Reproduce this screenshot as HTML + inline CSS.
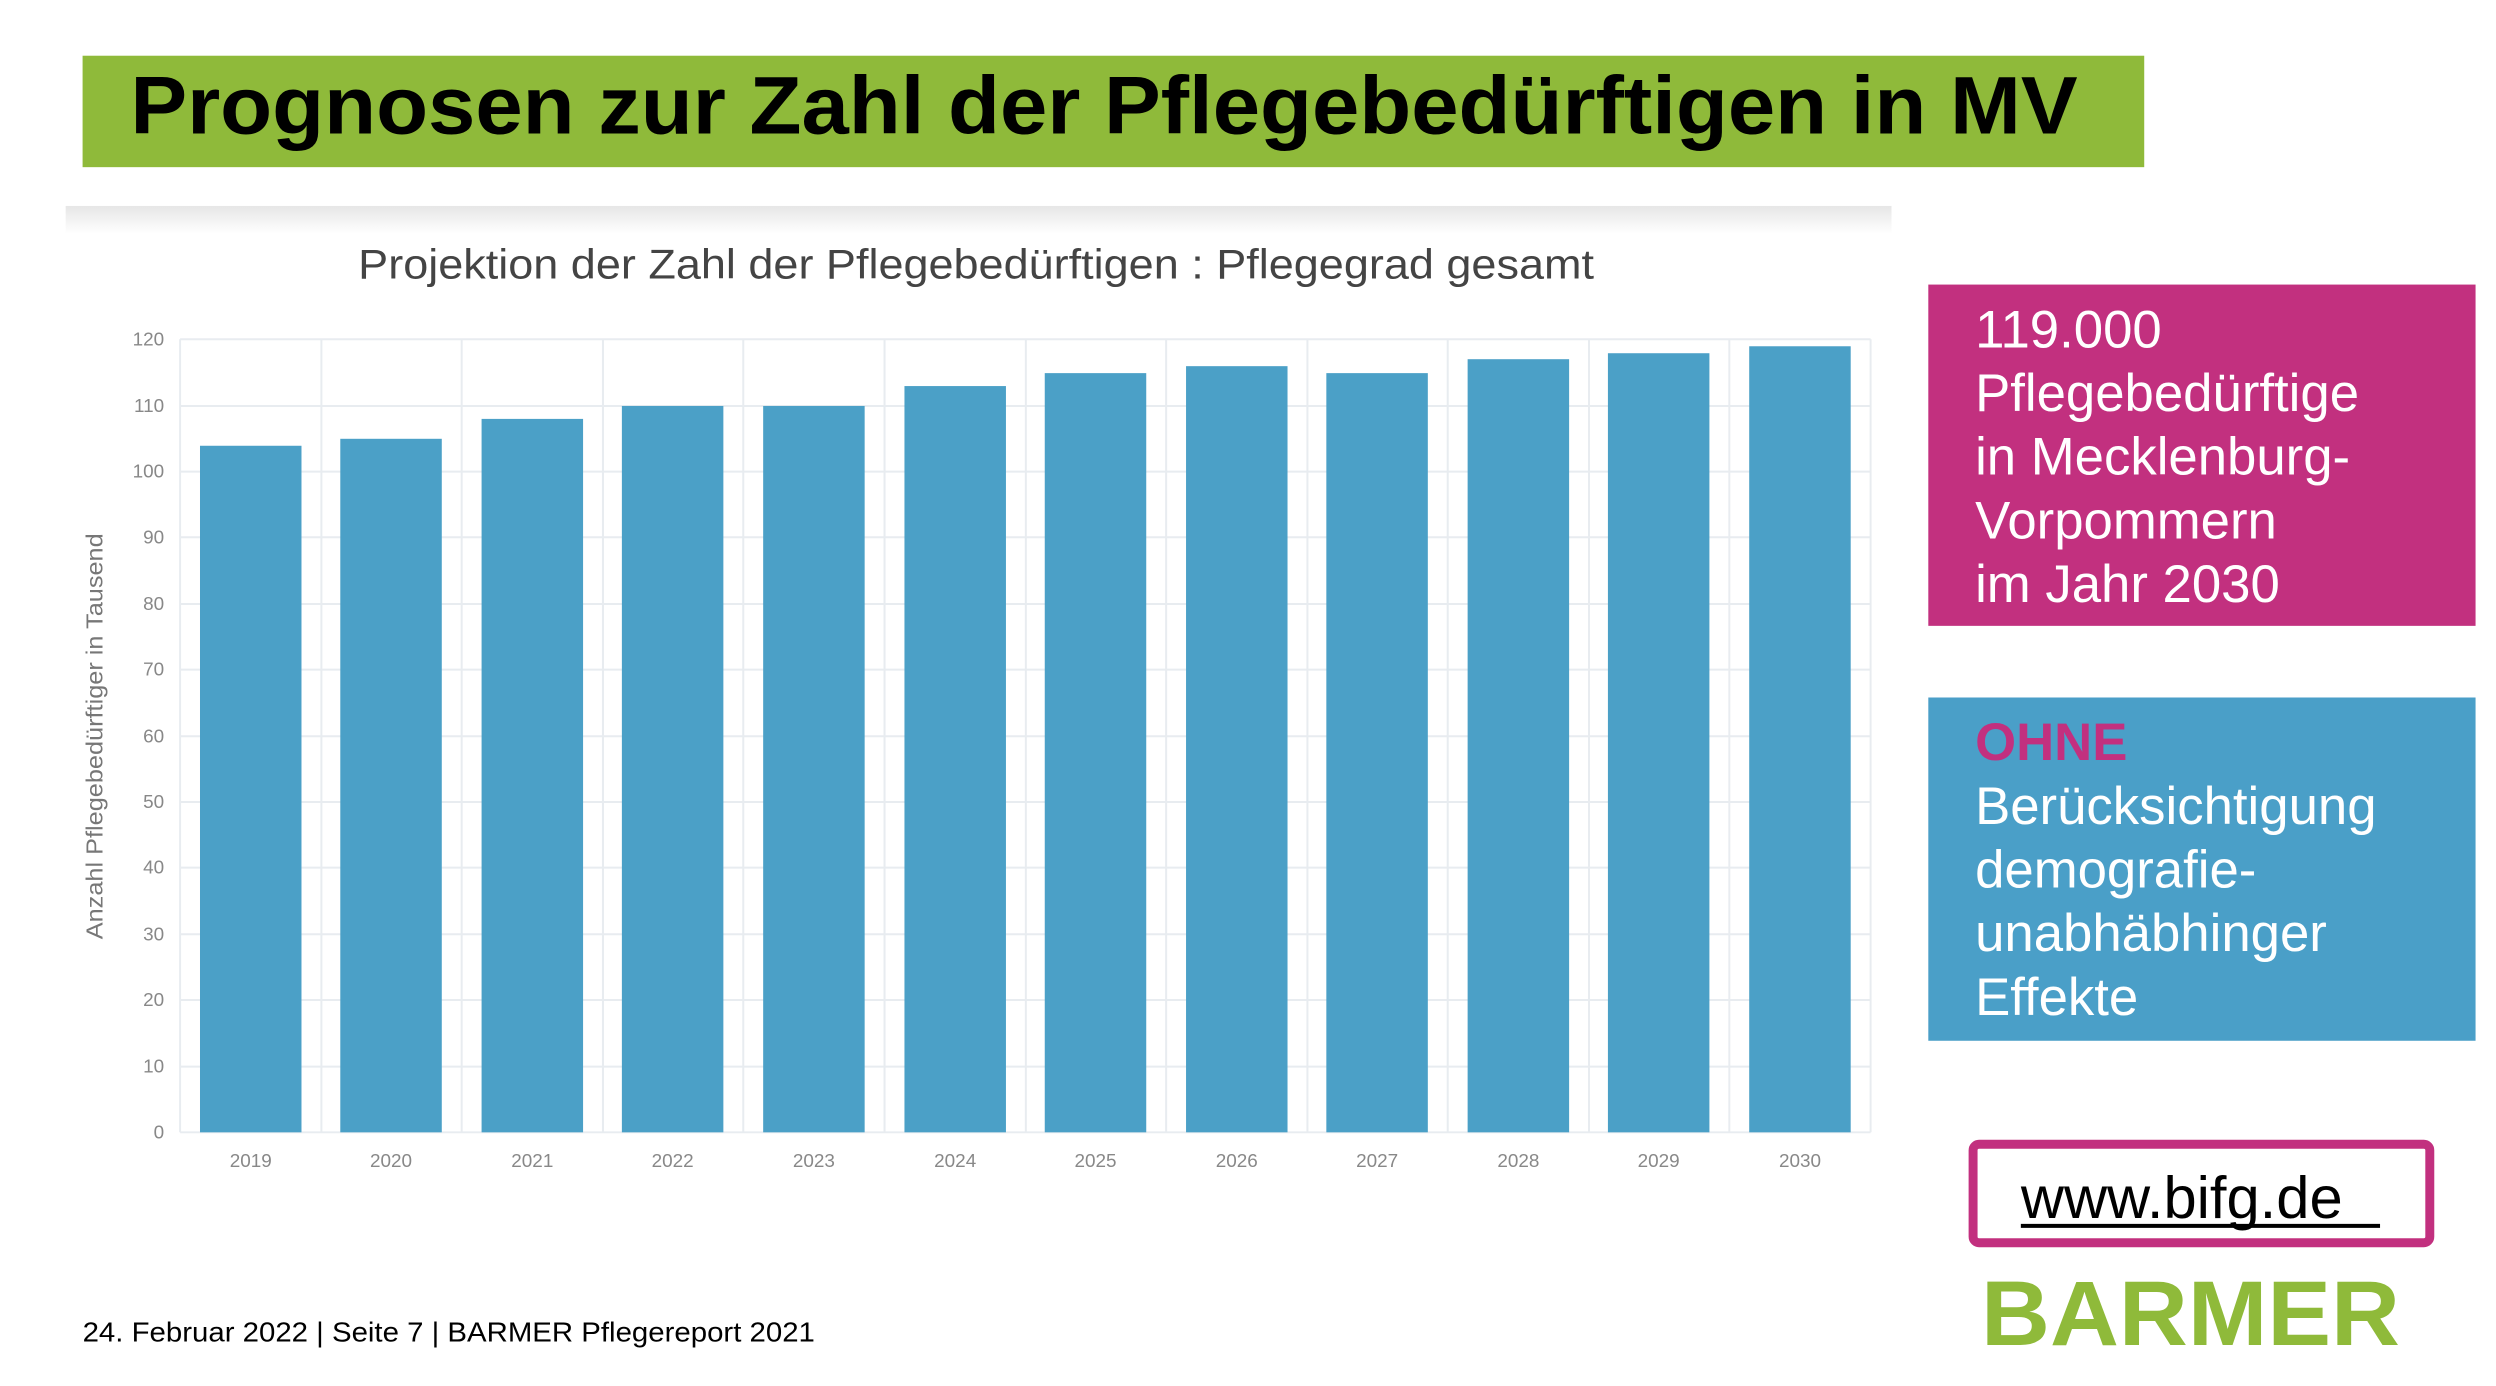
<!DOCTYPE html>
<html><head><meta charset="utf-8"><style>
html,body{margin:0;padding:0;background:#fff;}
svg{display:block;}
</style></head><body>
<svg width="2496" height="1386" viewBox="0 0 2496 1386" xmlns="http://www.w3.org/2000/svg" font-family="Liberation Sans, sans-serif">
<defs>
<linearGradient id="sh" x1="0" y1="0" x2="0" y2="1">
<stop offset="0" stop-color="#e6e6e6"/><stop offset="1" stop-color="#ffffff"/>
</linearGradient>
</defs>
<rect width="2496" height="1386" fill="#fff"/>
<g transform="scale(0.995)">
<rect x="83" y="56" width="2072" height="112" fill="#8fba3a"/>
<text x="131" y="134" font-size="82" font-weight="bold" fill="#000" textLength="1957" lengthAdjust="spacingAndGlyphs">Prognosen zur Zahl der Pflegebedürftigen in MV</text>
<rect x="66" y="207" width="1835" height="28" fill="url(#sh)"/>
<text x="981" y="280" font-size="42" fill="#444" text-anchor="middle" textLength="1242" lengthAdjust="spacingAndGlyphs">Projektion der Zahl der Pflegebedürftigen : Pflegegrad gesamt</text>
<g stroke="#e8ecf0" stroke-width="2">
<line x1="181" y1="341" x2="1880" y2="341"/>
<line x1="181" y1="408" x2="1880" y2="408"/>
<line x1="181" y1="474" x2="1880" y2="474"/>
<line x1="181" y1="540" x2="1880" y2="540"/>
<line x1="181" y1="607" x2="1880" y2="607"/>
<line x1="181" y1="673" x2="1880" y2="673"/>
<line x1="181" y1="740" x2="1880" y2="740"/>
<line x1="181" y1="806" x2="1880" y2="806"/>
<line x1="181" y1="872" x2="1880" y2="872"/>
<line x1="181" y1="939" x2="1880" y2="939"/>
<line x1="181" y1="1005" x2="1880" y2="1005"/>
<line x1="181" y1="1072" x2="1880" y2="1072"/>
<line x1="181" y1="1138" x2="1880" y2="1138"/>
<line x1="181" y1="341" x2="181" y2="1138"/>
<line x1="323" y1="341" x2="323" y2="1138"/>
<line x1="464" y1="341" x2="464" y2="1138"/>
<line x1="606" y1="341" x2="606" y2="1138"/>
<line x1="747" y1="341" x2="747" y2="1138"/>
<line x1="889" y1="341" x2="889" y2="1138"/>
<line x1="1031" y1="341" x2="1031" y2="1138"/>
<line x1="1172" y1="341" x2="1172" y2="1138"/>
<line x1="1314" y1="341" x2="1314" y2="1138"/>
<line x1="1455" y1="341" x2="1455" y2="1138"/>
<line x1="1597" y1="341" x2="1597" y2="1138"/>
<line x1="1738" y1="341" x2="1738" y2="1138"/>
<line x1="1880" y1="341" x2="1880" y2="1138"/>
</g>
<g font-size="19" fill="#888" text-anchor="end">
<text x="165" y="347">120</text><text x="165" y="414">110</text><text x="165" y="480">100</text>
<text x="165" y="546">90</text><text x="165" y="613">80</text><text x="165" y="679">70</text>
<text x="165" y="746">60</text><text x="165" y="812">50</text><text x="165" y="878">40</text>
<text x="165" y="945">30</text><text x="165" y="1011">20</text><text x="165" y="1078">10</text>
<text x="165" y="1144">0</text>
</g>
<text transform="translate(103,740) rotate(-90)" font-size="23" fill="#777" text-anchor="middle" textLength="408" lengthAdjust="spacingAndGlyphs">Anzahl Pflegebedürftiger in Tausend</text>
<g fill="#4ba0c7">
<rect x="201" y="448" width="102" height="690"/>
<rect x="342" y="441" width="102" height="697"/>
<rect x="484" y="421" width="102" height="717"/>
<rect x="625" y="408" width="102" height="730"/>
<rect x="767" y="408" width="102" height="730"/>
<rect x="909" y="388" width="102" height="750"/>
<rect x="1050" y="375" width="102" height="763"/>
<rect x="1192" y="368" width="102" height="770"/>
<rect x="1333" y="375" width="102" height="763"/>
<rect x="1475" y="361" width="102" height="777"/>
<rect x="1616" y="355" width="102" height="783"/>
<rect x="1758" y="348" width="102" height="790"/>
</g>
<g font-size="19" fill="#888" text-anchor="middle">
<text x="252" y="1173">2019</text><text x="393" y="1173">2020</text><text x="535" y="1173">2021</text>
<text x="676" y="1173">2022</text><text x="818" y="1173">2023</text><text x="960" y="1173">2024</text>
<text x="1101" y="1173">2025</text><text x="1243" y="1173">2026</text><text x="1384" y="1173">2027</text>
<text x="1526" y="1173">2028</text><text x="1667" y="1173">2029</text><text x="1809" y="1173">2030</text>
</g>
<rect x="1938" y="286" width="550" height="343" fill="#c2307f"/>
<g font-size="53" fill="#fff">
<text x="1985" y="349">119.000</text>
<text x="1985" y="413">Pflegebedürftige</text>
<text x="1985" y="477">in Mecklenburg-</text>
<text x="1985" y="541">Vorpommern</text>
<text x="1985" y="605">im Jahr 2030</text>
</g>
<rect x="1938" y="701" width="550" height="345" fill="#4a9fc8"/>
<text x="1985" y="764" font-size="53" font-weight="bold" fill="#c2307f">OHNE</text>
<g font-size="53" fill="#fff">
<text x="1985" y="828">Berücksichtigung</text>
<text x="1985" y="892">demografie-</text>
<text x="1985" y="956">unabhäbhinger</text>
<text x="1985" y="1020">Effekte</text>
</g>
<rect x="1983" y="1150" width="459" height="99" rx="6" fill="#fff" stroke="#c2307f" stroke-width="9"/>
<text x="2031" y="1224" font-size="60" fill="#000">www.bifg.de</text>
<line x1="2031" y1="1232" x2="2392" y2="1232" stroke="#000" stroke-width="4"/>
<text x="1991" y="1352" font-size="92" font-weight="bold" fill="#8fba3a" textLength="421" lengthAdjust="spacingAndGlyphs">BARMER</text>
<text x="83" y="1348" font-size="28" fill="#000" textLength="736" lengthAdjust="spacingAndGlyphs">24. Februar 2022 | Seite 7 | BARMER Pflegereport 2021</text>
</g>
</svg>
</body></html>
